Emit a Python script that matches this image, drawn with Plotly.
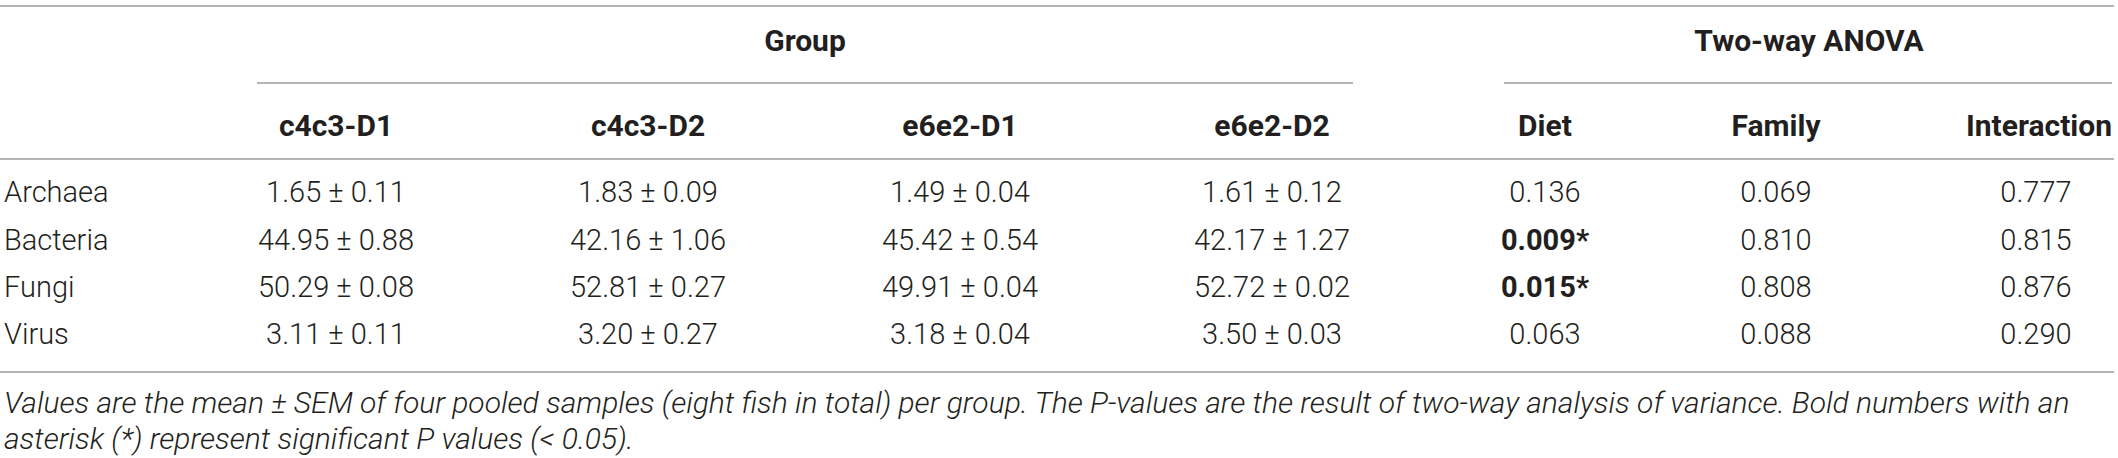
import plotly.graph_objects as go

# table data
taxa = ["Archaea", "Bacteria", "Fungi", "Virus"]
groups = ["c4c3-D1", "c4c3-D2", "e6e2-D1", "e6e2-D2"]
mean_c4c3_d1 = [1.65, 44.95, 50.29, 3.11]
sem_c4c3_d1 = [0.11, 0.88, 0.08, 0.11]
mean_c4c3_d2 = [1.83, 42.16, 52.81, 3.20]
sem_c4c3_d2 = [0.09, 1.06, 0.27, 0.27]
mean_e6e2_d1 = [1.49, 45.42, 49.91, 3.18]
sem_e6e2_d1 = [0.04, 0.54, 0.04, 0.04]
mean_e6e2_d2 = [1.61, 42.17, 52.72, 3.50]
sem_e6e2_d2 = [0.12, 1.27, 0.02, 0.03]
anova_terms = ["Diet", "Family", "Interaction"]
p_diet = [0.136, 0.009, 0.015, 0.063]
p_family = [0.069, 0.810, 0.808, 0.088]
p_interaction = [0.777, 0.815, 0.876, 0.290]

caption_lines = [
    "Values are the mean \u00b1 SEM of four pooled samples (eight fish in total) per group. "
    "The P-values are the result of two-way analysis of variance. Bold numbers with an",
    "asterisk (*) represent significant P values (< 0.05).",
]

# layout in pixels
W, H = 2118, 458
col_x = [336, 648, 960, 1272, 1545, 1776, 2036]
row_y = [195, 243, 290, 337]
head_y = 128
ink = "#231f20"
rule = "#b4b4b4"
fam = "Roboto, Liberation Sans, sans-serif"

def fmt_p(p):
    s = "%.3f" % p
    return "<b>%s*</b>" % s if p < 0.05 else s

means = [mean_c4c3_d1, mean_c4c3_d2, mean_e6e2_d1, mean_e6e2_d2]
sems = [sem_c4c3_d1, sem_c4c3_d2, sem_e6e2_d1, sem_e6e2_d2]
pvals = [p_diet, p_family, p_interaction]

fig = go.Figure()

light = dict(family=fam, size=29, color=ink, weight=300)
bold = dict(family=fam, size=30, color=ink, weight=700)

# row labels
fig.add_trace(go.Scatter(x=[4] * len(taxa), y=row_y, text=taxa, mode="text",
                         textposition="middle right", textfont=light))

# group columns
for i, g in enumerate(groups):
    cells = ["%.2f \u00b1 %.2f" % (m, s) for m, s in zip(means[i], sems[i])]
    fig.add_trace(go.Scatter(x=[col_x[i]] * len(cells), y=row_y, text=cells, mode="text",
                             textposition="middle center", textfont=light))

# anova columns
for j, term in enumerate(anova_terms):
    cells = [fmt_p(p) for p in pvals[j]]
    fig.add_trace(go.Scatter(x=[col_x[4 + j]] * len(cells), y=row_y, text=cells, mode="text",
                             textposition="middle center", textfont=light))

# column headers (last one pinned to the right edge)
heads = groups + anova_terms
fig.add_trace(go.Scatter(x=col_x[:-1], y=[head_y] * 6, text=heads[:-1], mode="text",
                         textposition="middle center", textfont=bold))
fig.add_trace(go.Scatter(x=[2112], y=[head_y], text=heads[-1:], mode="text",
                         textposition="middle left", textfont=bold))
fig.add_trace(go.Scatter(x=[805, 1809], y=[43, 43], text=["Group", "Two-way ANOVA"], mode="text",
                         textposition="middle center", textfont=bold))

# rules
for x0, x1, y in [(0, 2114, 6), (257, 1353, 83), (1504, 2112, 83), (0, 2114, 159), (0, 2114, 372)]:
    fig.add_shape(type="line", x0=x0, x1=x1, y0=y, y1=y, xref="x", yref="y",
                  line=dict(color=rule, width=2))

for line, y in zip(caption_lines, [402, 438]):
    fig.add_annotation(x=2, y=y, xref="x", yref="y", text=line, showarrow=False,
                       xanchor="left", yanchor="middle", align="left",
                       font=dict(family=fam, size=30, color=ink, weight=300, style="italic"))

fig.update_layout(width=W, height=H, margin=dict(l=0, r=0, t=0, b=0),
                  paper_bgcolor="white", plot_bgcolor="white", showlegend=False,
                  hovermode=False)
fig.update_xaxes(range=[0, W], visible=False, fixedrange=True)
fig.update_yaxes(range=[H, 0], visible=False, fixedrange=True)

fig.write_html("out.html", config={"displayModeBar": False, "staticPlot": True})

# drop the default body margin so the figure sits flush in the window
with open("out.html", encoding="utf-8") as f:
    page = f.read()
page = page.replace("<body>", '<body style="margin:0;overflow:hidden">', 1)
with open("out.html", "w", encoding="utf-8") as f:
    f.write(page)
